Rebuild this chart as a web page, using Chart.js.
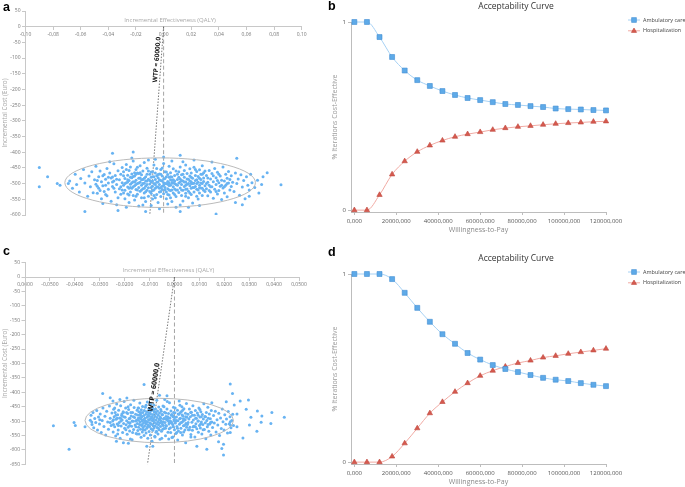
<!DOCTYPE html>
<html><head><meta charset="utf-8">
<script src="https://cdn.jsdelivr.net/npm/chart.js@4.4.1/dist/chart.umd.min.js"></script>
<style>
html,body{margin:0;padding:0;background:#fff;width:685px;height:487px;overflow:hidden;}
canvas{position:absolute;display:block;}
.lbl{position:absolute;font-family:"Liberation Sans",Arial,sans-serif;font-weight:bold;font-size:12.5px;line-height:12.5px;color:#000;}
</style></head><body>
<canvas id="ca" width="320" height="235" style="left:0;top:0"></canvas>
<canvas id="cb" width="365" height="235" style="left:320px;top:0"></canvas>
<canvas id="cc" width="320" height="237" style="left:0;top:250px"></canvas>
<canvas id="cd" width="365" height="235" style="left:320px;top:252px"></canvas>
<div class="lbl" style="left:3px;top:1px">a</div>
<div class="lbl" style="left:328px;top:0px">b</div>
<div class="lbl" style="left:3px;top:245px">c</div>
<div class="lbl" style="left:328px;top:246px">d</div>
<script>
// ---------- DATA ----------
const wtp = [0,6000,12000,18000,24000,30000,36000,42000,48000,54000,60000,66000,72000,78000,84000,90000,96000,102000,108000,114000,120000];
const ambB  = [1,1,0.92,0.814,0.742,0.691,0.66,0.633,0.612,0.596,0.585,0.574,0.564,0.559,0.553,0.548,0.54,0.537,0.535,0.532,0.53];
const hospB = [0,0,0.081,0.19,0.26,0.31,0.344,0.37,0.39,0.404,0.415,0.427,0.436,0.443,0.448,0.454,0.459,0.463,0.466,0.47,0.472];
const ambD  = [1,1,1,0.973,0.90,0.82,0.746,0.68,0.629,0.58,0.545,0.516,0.495,0.479,0.463,0.448,0.438,0.431,0.42,0.411,0.404];
const hospD = [0,0,0,0.03,0.10,0.18,0.26,0.32,0.374,0.42,0.459,0.486,0.508,0.527,0.54,0.556,0.565,0.576,0.585,0.594,0.603];
const accXTicks = [0,20000,40000,60000,80000,100000,120000];
const accXLabels = ['0,000','20000,000','40000,000','60000,000','80000,000','100000,000','120000,000'];
const accYTicks = [0,1];
const seriesNames = ['Ambulatory care','Hospitalization'];

const xTicksA = [-0.1,-0.08,-0.06,-0.04,-0.02,0,0.02,0.04,0.06,0.08,0.1];
const xLabelsA = ['-0,10','-0,08','-0,06','-0,04','-0,02','0,00','0,02','0,04','0,06','0,08','0,10'];
const yTicksA = [50,0,-50,-100,-150,-200,-250,-300,-350,-400,-450,-500,-550,-600];
const xTicksC = [-0.06,-0.05,-0.04,-0.03,-0.02,-0.01,0,0.01,0.02,0.03,0.04,0.05];
const xLabelsC = ['0,0600','-0,0500','-0,0400','-0,0300','-0,0200','-0,0100','0,0000','0,0100','0,0200','0,0300','0,0400','0,0500'];
const yTicksC = [50,0,-50,-100,-150,-200,-250,-300,-350,-400,-450,-500,-550,-600,-650];
const wtpValue = 60000;

// scatter a: [effect in 0.001 QALY, cost in Euro]
const scatterA = [
[-90,-449],[-84,-478],[-90,-510],[-77,-500],[-75,-505],[75,-465],[85,-504],[-57,-589],[-22,-399],[-37,-403],[12,-410],[38,-597],[12,-589],[-13,-589],[-33,-586],
[-68,-492],[-66,-515],[-64,-470],[-63,-503],[-61,-527],[-60,-484],[-58,-455],[-57,-498],[-55,-540],[-54,-476],[-53,-510],[-52,-462],[-51,-529],[-50,-488],[-69,-500],
[-49,-445],[-49,-502],[-48,-531],[-47,-478],[-47,-515],[-46,-460],[-45,-494],[-45,-548],[-44,-507],[-43,-471],[-43,-525],[-42,-486],[-41,-452],[-41,-539],[-40,-498],[-40,-518],[-39,-466],[-38,-482],[-38,-556],[-37,-509],[-36,-437],[-36,-492],[-35,-527],[-35,-474],[-34,-503],[-33,-459],[-33,-545],[-32,-488],[-32,-516],[-31,-470],[-31,-534],[-30,-497],[-30,-449],[-44,-563],[-39,-430],[-46,-522],[-42,-505],[-34,-567],[-37,-479],[-48,-490],
[-29,-505],[-29,-462],[-28,-521],[-28,-484],[-28,-548],[-27,-439],[-27,-497],[-26,-511],[-26,-473],[-26,-533],[-25,-458],[-25,-490],[-25,-560],[-24,-502],[-24,-527],[-24,-447],[-23,-481],[-23,-515],[-23,-469],[-22,-538],[-22,-494],[-22,-428],[-21,-507],[-21,-476],[-21,-552],[-20,-489],[-20,-519],[-20,-455],[-19,-500],[-19,-534],[-19,-466],[-18,-483],[-18,-512],[-18,-571],[-17,-443],[-17,-496],[-17,-524],[-16,-472],[-16,-505],[-16,-545],[-15,-460],[-15,-487],[-15,-516],[-14,-499],[-14,-433],[-14,-530],[-13,-478],[-13,-508],[-13,-557],[-12,-492],[-12,-521],[-12,-451],[-11,-486],[-11,-513],[-11,-540],[-10,-470],[-10,-501],[-10,-525],[-27,-575],[-23,-418],[-19,-448],[-15,-568],[-11,-425],[-29,-530],[-25,-515],[-21,-495],[-17,-465],[-13,-492],[-24,-480],[-20,-540],[-16,-488],[-12,-503],[-18,-498],[-14,-515],[-22,-510],
[-9,-494],[-9,-463],[-9,-531],[-8,-508],[-8,-478],[-8,-549],[-7,-441],[-7,-500],[-7,-520],[-6,-487],[-6,-515],[-6,-466],[-5,-535],[-5,-496],[-5,-452],[-4,-511],[-4,-481],[-4,-560],[-3,-469],[-3,-503],[-3,-527],[-2,-490],[-2,-455],[-2,-541],[-1,-508],[-1,-476],[-1,-519],[0,-497],[0,-436],[0,-532],[1,-484],[1,-512],[1,-462],[2,-500],[2,-527],[2,-548],[3,-471],[3,-493],[3,-516],[4,-445],[4,-506],[4,-536],[5,-488],[5,-522],[5,-465],[6,-499],[6,-557],[6,-479],[7,-510],[7,-453],[7,-530],[8,-492],[8,-517],[8,-474],[9,-503],[9,-541],[9,-460],[10,-487],[-9,-570],[-6,-422],[-3,-580],[0,-415],[3,-565],[6,-428],[9,-575],[-8,-492],[-4,-495],[0,-505],[4,-480],[8,-500],[-7,-478],[-3,-488],[1,-520],[5,-505],[-5,-510],[-1,-492],[3,-502],[7,-488],[-2,-470],[2,-478],[6,-520],[-9,-512],[10,-520],[-6,-545],[5,-545],
[11,-498],[11,-462],[11,-528],[12,-485],[12,-514],[12,-447],[13,-503],[13,-538],[13,-472],[14,-492],[14,-521],[14,-555],[15,-458],[15,-509],[15,-480],[16,-531],[16,-495],[16,-441],[17,-517],[17,-468],[17,-502],[18,-486],[18,-545],[18,-524],[19,-476],[19,-507],[19,-453],[20,-494],[20,-535],[20,-466],[21,-512],[21,-483],[21,-562],[22,-499],[22,-448],[22,-527],[23,-474],[23,-509],[23,-490],[24,-540],[24,-461],[24,-518],[25,-496],[25,-477],[25,-549],[26,-505],[26,-456],[26,-530],[27,-487],[27,-514],[27,-470],[28,-500],[28,-538],[28,-443],[29,-482],[29,-521],[29,-493],[30,-507],[14,-430],[18,-575],[22,-425],[26,-570],[30,-460],[12,-568],[16,-505],[20,-515],[24,-488],[28,-515],[13,-490],[19,-492],
[31,-474],[31,-516],[32,-496],[32,-539],[33,-458],[33,-505],[34,-485],[34,-527],[35,-468],[35,-510],[36,-494],[36,-547],[37,-452],[37,-518],[38,-481],[38,-503],[39,-533],[39,-464],[40,-497],[40,-522],[41,-476],[41,-508],[42,-489],[42,-551],[43,-447],[43,-514],[44,-492],[44,-530],[45,-470],[45,-505],[46,-483],[46,-542],[47,-498],[47,-461],[48,-520],[48,-487],[49,-509],[49,-475],[50,-496],[35,-431],
[51,-525],[52,-466],[53,-500],[54,-485],[55,-537],[56,-472],[57,-511],[58,-490],[59,-548],[60,-478],[61,-505],[62,-520],[63,-470],[64,-497],[66,-512],[68,-489],[53,-419],
[71,-503],[72,-478],[57,-567],[62,-540],[69,-530],[52,-560],
[-28,-500],[-26,-488],[-24,-512],[-22,-477],[-20,-503],[-18,-468],[-16,-520],[-14,-483],[-12,-470],[-10,-490],[-8,-522],[-6,-503],[-4,-471],[-2,-512],[0,-485],[2,-463],[4,-520],[6,-490],[8,-535],[10,-505],[12,-495],[14,-470],[16,-518],[18,-500],[20,-480],[22,-512],[24,-500],[26,-483],[28,-470],[30,-525],[32,-482],[34,-510],[-27,-455],[-25,-536],[-23,-497],[-21,-465],[-19,-520],[-17,-482],[-15,-500],[-13,-526],[-11,-460],[-9,-480],[-7,-538],[-5,-475],[-3,-515],[-1,-450],[1,-500],[3,-535],[5,-478],[7,-497],[9,-520],[11,-480],[13,-520],[15,-495],[17,-485],[19,-530],[21,-500],[23,-455],[25,-520],[27,-498],[29,-465],[31,-500],[33,-522],[-34,-486],[-31,-510],[-29,-475],[-36,-515],[-40,-480],[-44,-475],[-42,-535],[36,-475],[38,-525],[40,-470],[42,-505],[44,-510],[-8,-462],[-2,-525],[4,-497],[10,-470],[16,-540],[-14,-545],[-20,-470],[-26,-495],[20,-500],[26,-513],[-30,-520],[-37,-495],[39,-490],[46,-500],[-48,-508]
];
// scatter c: [effect in 0.0001 QALY, cost in Euro]
const scatterC = [
[-486,-516],[-423,-598],[-403,-505],[-398,-515],[-359,-520],[-332,-503],[-288,-404],[-258,-419],[-122,-373],[-60,-410],[-30,-412],[224,-371],[233,-404],[264,-430],[297,-427],[288,-459],[333,-465],[351,-482],[307,-487],[240,-444],[251,-475],[391,-470],[441,-487],[348,-504],[387,-508],[301,-514],[251,-520],[331,-535],[275,-559],[224,-540],[197,-580],[177,-572],[190,-595],[197,-618],[130,-598],[90,-587],[-111,-587],[-185,-577],[-87,-587],[208,-433],[150,-436],[224,-502],[224,-514],
[-338,-497],[-335,-480],[-331,-512],[-327,-470],[-324,-523],[-320,-491],[-316,-505],[-312,-463],[-309,-531],[-305,-486],[-301,-510],[-298,-475],[-294,-540],[-290,-498],[-287,-455],[-283,-519],[-279,-483],[-276,-548],[-272,-466],[-268,-503],[-265,-528],[-261,-448],[-258,-490],[-254,-515],[-251,-472],
[-248,-500],[-246,-538],[-244,-459],[-242,-485],[-240,-520],[-238,-470],[-236,-552],[-234,-494],[-232,-441],[-230,-510],[-228,-478],[-226,-531],[-224,-462],[-222,-505],[-220,-489],[-218,-560],[-216,-447],[-214,-517],[-212,-481],[-210,-496],[-208,-540],[-206,-468],[-204,-508],[-202,-432],[-200,-525],[-198,-487],[-196,-455],[-194,-513],[-192,-499],[-190,-546],[-188,-474],[-186,-521],[-184,-460],[-182,-492],[-180,-534],[-178,-506],[-176,-443],[-174,-482],[-172,-518],[-170,-565],[-168,-470],[-166,-501],[-164,-529],[-162,-453],[-160,-488],[-158,-514],[-156,-476],[-154,-543],[-152,-497],[-150,-462],[-247,-430],[-233,-570],[-219,-425],[-205,-575],[-191,-420],[-177,-562],[-163,-428],[-245,-512],[-211,-475],[-179,-490],
[-149,-508],[-148,-479],[-147,-533],[-146,-455],[-145,-497],[-144,-521],[-143,-468],[-142,-545],[-141,-489],[-140,-512],[-139,-437],[-138,-503],[-137,-476],[-136,-528],[-135,-492],[-134,-556],[-133,-461],[-132,-515],[-131,-484],[-130,-500],[-129,-538],[-128,-449],[-127,-470],[-126,-522],[-125,-495],[-124,-507],[-123,-481],[-122,-550],[-121,-463],[-120,-517],[-119,-490],[-118,-531],[-117,-452],[-116,-499],[-115,-476],[-114,-541],[-113,-510],[-112,-468],[-111,-525],[-110,-487],[-109,-434],[-108,-503],[-107,-560],[-106,-479],[-105,-514],[-104,-495],[-103,-457],[-102,-536],[-101,-483],[-100,-519],[-99,-471],[-98,-506],[-97,-548],[-96,-442],[-95,-491],[-94,-527],[-93,-464],[-92,-511],[-91,-486],[-90,-570],[-89,-498],[-88,-455],[-87,-532],[-86,-477],[-85,-515],[-84,-492],[-83,-444],[-82,-524],[-81,-468],[-80,-505],[-79,-553],[-78,-483],[-77,-517],[-76,-458],[-75,-496],[-74,-539],[-73,-474],[-72,-509],[-71,-428],[-70,-488],[-69,-522],[-68,-465],[-67,-502],[-66,-545],[-65,-480],[-64,-513],[-63,-451],[-62,-494],[-61,-530],[-60,-472],[-59,-507],[-58,-563],[-57,-486],[-56,-519],[-55,-460],
[-54,-500],[-52,-535],[-50,-477],[-48,-512],[-46,-448],[-44,-493],[-42,-526],[-40,-469],[-38,-505],[-36,-551],[-34,-484],[-32,-517],[-30,-458],[-28,-497],[-26,-539],[-24,-474],[-22,-510],[-20,-436],[-18,-489],[-16,-523],[-14,-465],[-12,-503],[-10,-557],[-8,-480],[-6,-514],[-4,-452],[-2,-495],[0,-530],[2,-471],[4,-507],[6,-543],[8,-486],[10,-519],[12,-462],[14,-499],[16,-534],[18,-476],[20,-511],[22,-445],[24,-490],[26,-525],[28,-467],[30,-504],[32,-548],[34,-482],[36,-516],[38,-457],[40,-496],[42,-531],[44,-473],[46,-508],[48,-439],[50,-487],[-53,-466],[-47,-528],[-41,-490],[-35,-515],[-29,-432],[-23,-562],[-17,-500],[-11,-477],[-5,-520],[1,-488],[7,-498],[13,-566],[19,-430],[25,-506],[31,-479],[37,-538],[43,-495],[49,-521],[-51,-560],[-39,-425],[-27,-485],[-15,-505],[-3,-470],[9,-540],[21,-492],[33,-462],[45,-575],[-45,-503],[-33,-494],[-21,-527],[-9,-508],[3,-455],
[52,-512],[54,-476],[56,-530],[58,-493],[60,-458],[62,-521],[64,-485],[66,-547],[68,-469],[70,-504],[72,-532],[74,-447],[76,-496],[78,-518],[80,-480],[82,-555],[84,-463],[86,-509],[88,-490],[90,-527],[92,-472],[94,-500],[96,-539],[98,-455],[100,-515],[102,-486],[104,-524],[106,-468],[108,-503],[110,-545],[112,-477],[114,-512],[116,-493],[118,-440],[120,-529],[122,-484],[124,-506],[126,-561],[128,-470],[130,-498],[132,-520],[134,-452],[136,-490],[138,-535],[140,-475],[142,-510],[144,-492],[146,-548],[148,-463],[150,-503],
[153,-522],[157,-481],[160,-507],[164,-466],[167,-538],[171,-495],[174,-514],[178,-473],[181,-550],[185,-489],[188,-526],[192,-458],[195,-502],[199,-531],[202,-478],[206,-511],[209,-493],[213,-541],[216,-467],[220,-509],[223,-485],[227,-523],[230,-498],[234,-476],[237,-515],
[-245,-495],[-235,-480],[-225,-515],[-215,-500],[-205,-470],[-195,-530],[-185,-505],[-175,-470],[-165,-485],[-155,-520],[-145,-490],[-135,-470],[-125,-530],[-115,-505],[-105,-470],[-95,-510],[-85,-500],[-75,-470],[-65,-525],[-55,-490],[-45,-515],[-35,-472],[-25,-500],[-15,-540],[-5,-485],[5,-500],[15,-475],[25,-540],[35,-500],[45,-485],[55,-505],[65,-470],[75,-520],[85,-490],[95,-480],[105,-510],[115,-530],[125,-485],[135,-512],[145,-505],[-240,-455],[-228,-545],[-216,-490],[-204,-485],[-192,-470],[-180,-515],[-168,-540],[-156,-500],[-144,-455],[-132,-485],[-120,-500],[-108,-520],[-96,-475],[-84,-460],[-72,-535],[-60,-495],[-48,-478],[-36,-525],[-24,-490],[-12,-480],[0,-500],[12,-525],[24,-470],[36,-492],[48,-510],[60,-530],[72,-480],[84,-520],[96,-500],[108,-485],[-186,-450],[-150,-545],[-114,-445],[-78,-555],[-42,-450],[-6,-555],[30,-450],[66,-555],[102,-460],[-258,-505],[-300,-495],[-230,-490],[-140,-480],[-100,-495],[-20,-505],[40,-515],[-170,-500],[-130,-512],[-90,-485],[-50,-505]
];

// ---------- SETUP ----------
const FONT = '"Open Sans","Noto Sans",sans-serif';
Chart.defaults.font.family = FONT;
Chart.defaults.animation = false;

const scatterDecor = {
  id: 'scatterDecor',
  afterDatasetsDraw(chart, args, o) {
    const {ctx, scales: {x, y}} = chart;
    const e = o.ellipse;
    const cx = x.getPixelForValue(e.cx), cy = y.getPixelForValue(e.cy);
    const rx = Math.abs(x.getPixelForValue(e.cx + e.ax) - cx);
    const ry = Math.abs(y.getPixelForValue(e.cy + e.ay) - cy);
    ctx.save();
    ctx.strokeStyle = '#b2b2b2'; ctx.lineWidth = 0.9;
    ctx.beginPath(); ctx.ellipse(cx, cy, rx, ry, 0, 0, Math.PI * 2); ctx.stroke();
    ctx.restore();
    const p0 = {x: x.getPixelForValue(0), y: y.getPixelForValue(0)};
    const p1 = {x: x.getPixelForValue(o.endCost / wtpValue), y: y.getPixelForValue(o.endCost)};
    const ang = Math.atan2(p0.y - p1.y, p0.x - p1.x);
    const lx = x.getPixelForValue(o.labelCost / wtpValue), ly = y.getPixelForValue(o.labelCost);
    ctx.save();
    ctx.translate(lx, ly); ctx.rotate(ang);
    ctx.font = 'bold ' + o.labelSize + 'px ' + FONT;
    ctx.fillStyle = '#111'; ctx.textAlign = 'center'; ctx.textBaseline = 'bottom';
    ctx.fillText('WTP = 60000,0', 0, -1);
    ctx.restore();
    ctx.save();
    ctx.font = '6px ' + FONT; ctx.fillStyle = '#a8a8a8';
    ctx.textAlign = 'center'; ctx.textBaseline = 'middle';
    ctx.fillText('Incremental Effectiveness (QALY)', o.titleX, y.getPixelForValue(0) - 6.5);
    ctx.restore();
  }
};

function scatterChart(id, pts, div, xmin, xmax, xt, xl, ymin, yt, endCost, opt) {
  const data = pts.map(p => ({x: p[0] / div, y: p[1]}));
  const wtpLine = [{x: 0, y: 0}, {x: endCost / wtpValue, y: endCost}];
  const zeroLine = [{x: 0, y: 0}, {x: 0, y: endCost}];
  new Chart(document.getElementById(id), {
    type: 'scatter',
    data: {datasets: [
      {data: data, pointRadius: 1.5, backgroundColor: '#68b3f2', borderWidth: 0, pointHoverRadius: 0},
      {type: 'line', data: wtpLine, borderColor: '#555', borderWidth: 0.8, borderDash: [1.5, 1.5], pointRadius: 0, fill: false},
      {type: 'line', data: zeroLine, borderColor: '#9a9a9a', borderWidth: 0.9, borderDash: [4, 2.5], pointRadius: 0, fill: false}
    ]},
    options: {
      responsive: false, animation: false, events: [],
      layout: {padding: {top: opt.top, right: opt.right, bottom: opt.bottom, left: 0}},
      plugins: {legend: {display: false}, tooltip: {enabled: false}, scatterDecor: opt.decor},
      scales: {
        x: {type: 'linear', axis: 'x', min: xmin, max: xmax, position: {y: 0},
            afterBuildTicks: s => { s.ticks = xt.map(v => ({value: v})); },
            ticks: {callback: (v, i) => xl[i], font: {size: 5}, color: '#777', maxRotation: 0, minRotation: 0, autoSkip: false, padding: 1.5},
            grid: {drawOnChartArea: false, tickLength: 3, color: '#c8c8c8'},
            border: {color: '#c8c8c8'},
            afterFit: s => { s.height = 0; }},
        y: {type: 'linear', min: ymin, max: 50,
            afterBuildTicks: s => { s.ticks = yt.map(v => ({value: v})); },
            ticks: {font: {size: 5}, color: '#777', padding: 1.5, callback: v => String(v)},
            grid: {drawOnChartArea: false, tickLength: 3.5, color: '#c8c8c8'},
            border: {color: '#c8c8c8'},
            title: {display: true, text: 'Incremental Cost (Euro)', font: {size: 6.3}, color: '#a8a8a8', padding: {top: 1.2, bottom: 0}},
            afterFit: s => { s.width = opt.yw; }}
      }
    },
    plugins: [scatterDecor]
  });
}

const accDecor = {
  id: 'accDecor',
  afterDraw(chart) {
    const ctx = chart.ctx;
    ctx.save();
    ctx.font = '8.5px ' + FONT; ctx.fillStyle = '#333'; ctx.textAlign = 'center'; ctx.textBaseline = 'middle';
    ctx.fillText('Acceptability Curve', 196, 6.5);
    ctx.restore();
    chart.data.datasets.forEach((ds, i) => {
      const y = 20 + i * 10.8, x0 = 308;
      ctx.save();
      ctx.strokeStyle = ds.borderColor; ctx.lineWidth = 1;
      ctx.beginPath(); ctx.moveTo(x0, y); ctx.lineTo(x0 + 12, y); ctx.stroke();
      ctx.fillStyle = ds.pointBackgroundColor; ctx.strokeStyle = ds.pointBorderColor; ctx.lineWidth = 0.6;
      ctx.beginPath();
      if (ds.pointStyle === 'rect') { ctx.rect(x0 + 3.6, y - 2.4, 4.8, 4.8); }
      else { ctx.moveTo(x0 + 6, y - 2.8); ctx.lineTo(x0 + 8.6, y + 1.6); ctx.lineTo(x0 + 3.4, y + 1.6); ctx.closePath(); }
      ctx.fill(); ctx.stroke();
      ctx.font = '5.5px ' + FONT; ctx.fillStyle = '#444'; ctx.textAlign = 'left'; ctx.textBaseline = 'middle';
      ctx.fillText(ds.label, x0 + 15, y);
      ctx.restore();
    });
  }
};

function accChart(id, amb, hosp) {
  new Chart(document.getElementById(id), {
    type: 'line',
    data: {datasets: [
      {label: seriesNames[0], data: wtp.map((w, i) => ({x: w, y: amb[i]})), borderColor: '#a6d1f4', borderWidth: 1,
       pointStyle: 'rect', pointRadius: 3.5, pointBackgroundColor: '#5eaae8', pointBorderColor: '#3f8dd4', pointBorderWidth: 0.6,
       cubicInterpolationMode: 'monotone', clip: false},
      {label: seriesNames[1], data: wtp.map((w, i) => ({x: w, y: hosp[i]})), borderColor: '#f1aaa3', borderWidth: 1,
       pointStyle: 'triangle', pointRadius: 3.1, pointBackgroundColor: '#d65a4f', pointBorderColor: '#bd463c', pointBorderWidth: 0.6,
       cubicInterpolationMode: 'monotone', clip: false}
    ]},
    options: {
      responsive: false, animation: false, events: [],
      layout: {padding: {top: 22, right: 79, bottom: 0, left: 0}},
      plugins: {legend: {display: false}, tooltip: {enabled: false}},
      scales: {
        x: {type: 'linear', min: -1600, max: 120000,
            afterBuildTicks: s => { s.ticks = accXTicks.map(v => ({value: v})); },
            ticks: {callback: (v, i) => accXLabels[i], font: {size: 6}, color: '#555', maxRotation: 0, minRotation: 0, autoSkip: false, padding: 2.5},
            grid: {drawOnChartArea: false, tickLength: 3, color: '#bdbdbd'},
            border: {color: '#bdbdbd'},
            title: {display: true, text: 'Willingness-to-Pay', font: {size: 7}, color: '#8a8a8a', padding: {top: 0, bottom: 1.3}},
            afterFit: s => { s.height = 23; }},
        y: {type: 'linear', min: -0.01, max: 1,
            afterBuildTicks: s => { s.ticks = accYTicks.map(v => ({value: v})); },
            ticks: {font: {size: 6}, color: '#555', padding: 2, callback: v => String(v)},
            grid: {drawOnChartArea: false, tickLength: 3, color: '#bdbdbd'},
            border: {color: '#bdbdbd'},
            title: {display: true, text: '% Iterations Cost-Effective', font: {size: 7}, color: '#9a9a9a', padding: {top: 10.8, bottom: 0}},
            afterFit: s => { s.width = 31; }}
      }
    },
    plugins: [accDecor]
  });
}

scatterChart('ca', scatterA, 1000, -0.1, 0.1, xTicksA, xLabelsA, -600, yTicksA, -600,
  {top: 11, right: 18.3, bottom: 20, yw: 25.5,
   decor: {ellipse: {cx: -0.0025, cy: -497, ax: 0.069, ay: 79}, endCost: -600, labelCost: -106, labelSize: 6.5, titleX: 170}});
scatterChart('cc', scatterC, 10000, -0.06, 0.05, xTicksC, xLabelsC, -650, yTicksC, -650,
  {top: 12.6, right: 21, bottom: 22.7, yw: 25,
   decor: {ellipse: {cx: -0.0061, cy: -498, ax: 0.0298, ay: 77}, endCost: -650, labelCost: -385, labelSize: 7, titleX: 168.5}});
accChart('cb', ambB, hospB);
accChart('cd', ambD, hospD);
</script>
</body></html>
